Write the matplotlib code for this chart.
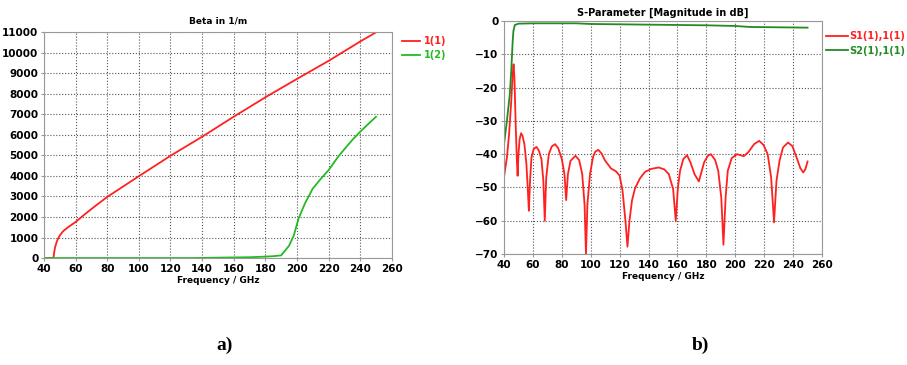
import matplotlib.pyplot as plt
import numpy as np

plt.rcParams['font.family'] = 'DejaVu Sans'

# ---- data ----
beta_freq_1 = [40, 44, 46, 46.5, 47, 48, 49, 50, 52, 55, 58, 60, 65, 70, 80, 100, 120, 140, 160, 180, 200, 220, 240, 250]
beta_1 = [0, 0, 0, 300, 520, 780, 960, 1100, 1300, 1490, 1650, 1757, 2080, 2390, 2977, 3986, 4979, 5906, 6882, 7826, 8721, 9600, 10543, 10990]

beta_freq_2 = [40, 135, 150, 170, 180, 185, 190, 195, 198, 201, 205, 210, 215, 220, 226, 230, 235, 240, 245, 250]
beta_2 = [0, 0, 20, 40, 70, 90, 130, 600, 1100, 1920, 2650, 3384, 3850, 4280, 4930, 5300, 5750, 6150, 6520, 6880]

s11_freq = [40, 42, 43.5, 45, 46, 46.6, 47.2, 48, 48.8, 49.4, 50, 50.8, 51.8, 52.8, 54.1, 55.5, 56.5, 57.2, 58, 59, 60.5,
            62.4, 64.2, 65.9, 67.2, 68.2, 69.2, 71, 73, 75.3, 77.5, 80, 81.8, 83, 84.2, 86, 89.4, 92, 94.1, 95.7,
            96.7, 97.7, 99.5, 101.5, 103, 105.2, 107.5, 110, 111.8, 114, 117.6, 120, 122, 124, 125.4, 126.8, 128.5,
            130.6, 134, 137.6, 142, 147, 151, 154, 157, 158.8, 160.3, 161.8, 164, 166.6, 169, 171.8, 174.8, 178.4,
            181, 183.1, 186, 188.2, 190.3, 191.8, 193.3, 194.8, 197.5, 201.2, 203.5, 205.9, 209, 213, 216.5, 219.5,
            222.4, 224.8, 226.8, 228.5, 230.6, 233, 236.5, 239.5, 242.4, 245, 247, 248.5, 250]
s11 = [-46.8, -41, -34, -24, -16, -13, -17, -30, -41, -46.5, -40, -35.5, -33.7, -34.5, -37, -43, -51, -57, -48, -41, -38.5,
       -37.8, -39, -41.5, -48, -60, -47, -40, -37.7, -37, -38.2, -41.5, -46, -53.8, -46, -42, -40.5, -41.8, -46, -55,
       -70, -55, -46, -41, -39.3, -38.7, -39.8, -42, -43, -44.3, -45.2, -46.5, -51, -60, -67.8, -60, -54,
       -50.3, -47.3, -45.3, -44.4, -44, -44.6, -46, -50.5, -60, -50, -45, -41.5, -40.3, -42.5, -46, -48.2, -42.5,
       -40.5, -40, -41.7, -45, -53, -67.2, -53, -45, -41.2, -40, -40.3, -40.6, -39.4, -37, -36, -37.2,
       -40, -47, -60.5, -48, -42, -38, -36.5, -37.6, -41, -44.2, -45.5, -44.5, -42.2]

s21_freq = [40, 42, 44, 45, 46, 46.5, 47.5, 50, 60, 90, 100, 140, 180, 200, 210, 250]
s21 = [-37, -30, -22, -15, -6, -3, -1.2, -0.8, -0.7, -0.7, -0.9, -1.1, -1.3, -1.5, -1.8, -2.0]

fig = plt.figure(figsize=(9.07, 3.65), dpi=100)

def style(ax):
    ax.grid(True, linestyle=':', color='#555555', linewidth=0.8)
    for sp in ax.spines.values():
        sp.set_color('#999999')
    ax.tick_params(labelsize=7.5, length=2, color='#999999', pad=2)
    for lab in ax.get_xticklabels() + ax.get_yticklabels():
        lab.set_fontweight('bold')
    ax.set_xlabel('Frequency / GHz', fontsize=6.5, fontweight='bold', labelpad=2)

# a) beta
ax1 = fig.add_axes([0.0485, 0.293, 0.3835, 0.619])
ax1.plot(beta_freq_1, beta_1, color='#ff2020', lw=1.3, label='1(1)')
ax1.plot(beta_freq_2, beta_2, color='#22bb22', lw=1.3, label='1(2)')
ax1.set_xlim(40, 260)
ax1.set_ylim(0, 11000)
ax1.set_xticks(np.arange(40, 261, 20))
ax1.set_yticks(np.arange(0, 11001, 1000))
ax1.set_title('Beta in 1/m', fontsize=6.5, fontweight='bold', pad=6)
style(ax1)
leg = ax1.legend(loc='upper left', bbox_to_anchor=(1.005, 1.02), frameon=False,
                 handlelength=1.8, handletextpad=0.4, labelspacing=0.4, prop={'weight': 'bold', 'size': 7})
for t, c in zip(leg.get_texts(), ['#ff2020', '#22bb22']):
    t.set_color(c)

# b) S-parameters
ax2 = fig.add_axes([0.5557, 0.304, 0.3506, 0.6385])
ax2.plot(s11_freq, s11, color='#ff2020', lw=1.3, label='S1(1),1(1)')
ax2.plot(s21_freq, s21, color='#228b22', lw=1.3, label='S2(1),1(1)')
ax2.set_xlim(40, 260)
ax2.set_ylim(-70, 0)
ax2.set_xticks(np.arange(40, 261, 20))
ax2.set_yticks(np.arange(-70, 1, 10))
ax2.set_title('S-Parameter [Magnitude in dB]', fontsize=7, fontweight='bold', pad=4)
style(ax2)
leg2 = ax2.legend(loc='upper left', bbox_to_anchor=(1.012, 0.955), frameon=False,
                  borderpad=0, borderaxespad=0, handlelength=2.2, handletextpad=0.2,
                  labelspacing=0.45, prop={'weight': 'bold', 'size': 7.1})
for t, c in zip(leg2.get_texts(), ['#ff2020', '#228b22']):
    t.set_color(c)

fig.text(0.248, 0.04, 'a)', fontsize=14, fontweight='bold', family='Liberation Serif', ha='center')
fig.text(0.772, 0.04, 'b)', fontsize=14, fontweight='bold', family='Liberation Serif', ha='center')

fig.savefig('out.png', dpi=100)
